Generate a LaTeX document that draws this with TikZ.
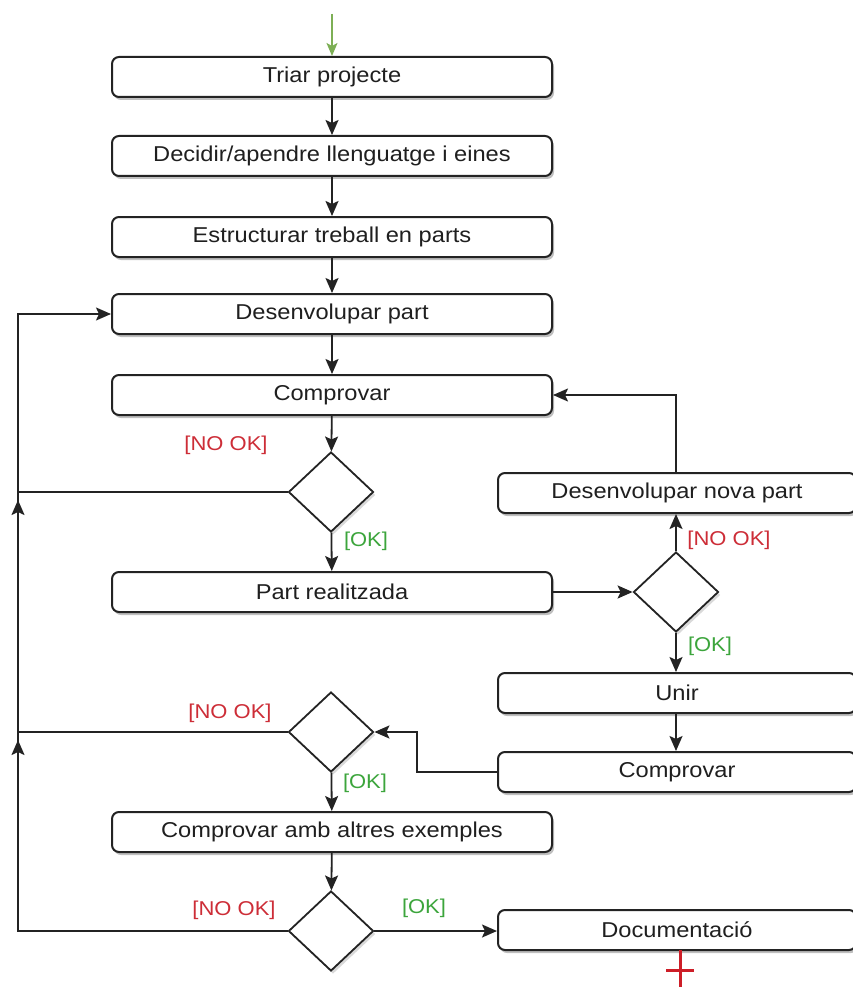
\documentclass[tikz,border=0pt]{standalone}
\usepackage{fontspec}
\setmainfont[FakeStretch=1.1]{Liberation Sans}
\usetikzlibrary{shapes.geometric,arrows.meta,shadows}
\definecolor{lblred}{RGB}{205,45,55}
\definecolor{lblgreen}{RGB}{60,165,60}
\definecolor{startgreen}{RGB}{125,175,85}
\definecolor{edgec}{RGB}{35,35,35}
\definecolor{endred}{RGB}{205,30,40}
\begin{document}
\begin{tikzpicture}[x=1pt,y=-1pt,
  box/.style={draw=edgec, line width=2pt, rounded corners=7pt, fill=white, inner sep=0pt,
    minimum height=40pt, font=\fontsize{21.5}{24}\selectfont, text=black!88,
    drop shadow={shadow xshift=2pt, shadow yshift=-3pt, opacity=0.25, fill=black}},
  lbox/.style={box, minimum width=440pt},
  rbox/.style={box, minimum width=358pt},
  dec/.style={diamond, draw=edgec, line width=1.8pt, fill=white, minimum width=85pt,
    minimum height=80pt, inner sep=0pt,
    drop shadow={shadow xshift=2pt, shadow yshift=-3pt, opacity=0.15, fill=black}},
  conn/.style={draw=edgec, line width=1.8pt},
  arr/.style={conn, -{Stealth[length=15pt,width=13pt,inset=3pt]}},
  nok/.style={text=lblred, font=\fontsize{20}{22}\selectfont, inner sep=0pt},
  okl/.style={text=lblgreen, font=\fontsize{20}{22}\selectfont, inner sep=0pt},
  startarr/.style={draw=startgreen, line width=1.5pt, -{Stealth[length=13pt,width=11pt,inset=3pt]}},
  endmark/.style={draw=endred, line width=3pt},
]
\useasboundingbox (0,0) rectangle (853,987);
\clip (0,0) rectangle (853,987);
\fill[white] (0,0) rectangle (853,987);

% left column
\node[lbox] (n1) at (332,77) {Triar projecte};
\node[lbox] (n2) at (332,156) {Decidir/apendre llenguatge i eines};
\node[lbox] (n3) at (332,237) {Estructurar treball en parts};
\node[lbox] (n4) at (332,314) {Desenvolupar part};
\node[lbox] (n5) at (332,395) {Comprovar};
\node[dec] (d1) at (331,492) {};
\node[lbox] (n6) at (332,592) {Part realitzada};
\node[dec] (d3) at (331,732) {};
\node[lbox] (n10) at (332,832) {Comprovar amb altres exemples};
\node[dec] (d4) at (331,931) {};

% right column
\node[rbox] (n7) at (677,493) {Desenvolupar nova part};
\node[dec] (d2) at (676,592) {};
\node[rbox] (n8) at (677,693) {Unir};
\node[rbox] (n9) at (677,772) {Comprovar};
\node[rbox] (n11) at (677,930) {Documentació};

% start
\coordinate (s) at (332,14);
\draw[startarr] (s) -- (n1.north);

% main flow
\draw[arr] (n1) -- (n2);
\draw[arr] (n2) -- (n3);
\draw[arr] (n3) -- (n4);
\draw[arr] (n4) -- (n5);
\draw[arr] (n5) -- (d1);
\draw[arr] (d1) -- (n6);
\draw[arr] (n6.east) -- (d2.west);
\draw[arr] (d2.north) -- (d2.north |- n7.south);
\draw[arr] (d2.north |- n7.north) |- (n5.east);
\draw[arr] (d2.south) -- (d2.south |- n8.north);
\draw[arr] (d2 |- n8.south) -- (d2 |- n9.north);
\draw[arr] (n9.west) -- ++(-80,0) |- (d3.east);
\draw[arr] (d3) -- (n10);
\draw[arr] (n10) -- (d4);
\draw[arr] (d4.east) -- (d4.east -| n11.west);

% loop back
\coordinate (L) at (18,0);
\draw[conn] (d1.west) -- (d1.west -| L);
\draw[conn] (d3.west) -- (d3.west -| L);
\draw[arr] (d4.west) -- (d4.west -| L) |- (n4.west);
\coordinate (a1s) at (18,530);
\coordinate (a1e) at (18,500);
\coordinate (a3s) at (18,770);
\coordinate (a3e) at (18,740);
\draw[arr] (a1s) -- (a1e);
\draw[arr] (a3s) -- (a3e);

% end mark
\coordinate (e0) at (680,950);
\coordinate (e1) at (680,995);
\coordinate (c0) at (666,970);
\coordinate (c1) at (694,970);
\draw[endmark] (e0) -- (e1);
\draw[endmark] (c0) -- (c1);

% labels
\node[nok] (l1) at (226,445) {[NO OK]};
\node[okl] (l2) at (366,541) {[OK]};
\node[nok] (l3) at (729,540) {[NO OK]};
\node[okl] (l4) at (710,646) {[OK]};
\node[nok] (l5) at (230,713) {[NO OK]};
\node[okl] (l6) at (365,783) {[OK]};
\node[nok] (l7) at (234,910) {[NO OK]};
\node[okl] (l8) at (424,908) {[OK]};
\end{tikzpicture}
\end{document}
